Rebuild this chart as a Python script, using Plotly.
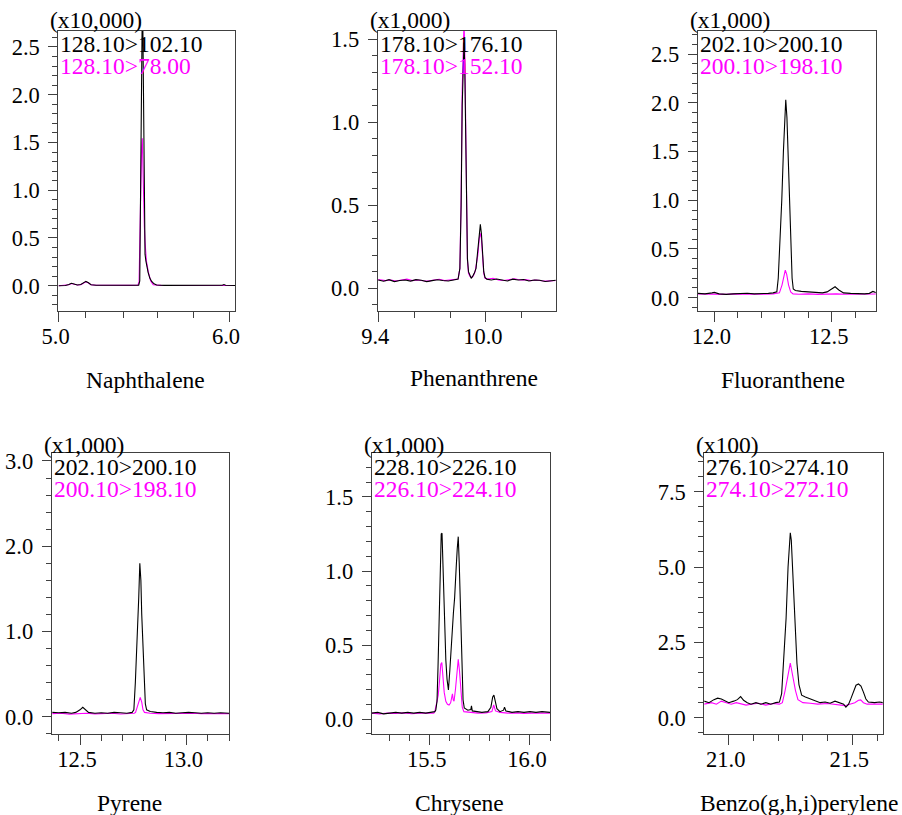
import plotly.graph_objects as go

W, H = 902, 815

# ---------------- data ----------------
names = ["Naphthalene", "Phenanthrene", "Fluoranthene", "Pyrene", "Chrysene", "Benzo(g,h,i)perylene"]
scale_labels = ["(x10,000)", "(x1,000)", "(x1,000)", "(x1,000)", "(x1,000)", "(x100)"]
black_labels = ["128.10>102.10", "178.10>176.10", "202.10>200.10", "202.10>200.10", "228.10>226.10", "276.10>274.10"]
magenta_labels = ["128.10>78.00", "178.10>152.10", "200.10>198.10", "200.10>198.10", "226.10>224.10", "274.10>272.10"]

# Naphthalene
naph_t_k = [5.00, 5.04, 5.06, 5.075, 5.09, 5.11, 5.13, 5.15, 5.16, 5.175, 5.19, 5.22, 5.28, 5.35, 5.42, 5.46,
            5.470, 5.476, 5.479, 5.482, 5.486, 5.490, 5.494, 5.498, 5.501, 5.503, 5.507, 5.512, 5.517, 5.525,
            5.535, 5.546, 5.56, 5.575, 5.62, 5.70, 5.80, 5.90, 5.96, 5.97, 5.98, 6.04]
naph_y_k = [0.0, 0.002, 0.012, 0.025, 0.018, 0.008, 0.012, 0.035, 0.045, 0.03, 0.01, 0.004, 0.003, 0.002, 0.003, 0.004,
            0.005, 0.05, 0.6, 1.6, 2.5, 2.75, 2.75, 2.0, 1.0, 0.45, 0.33, 0.26, 0.21, 0.14,
            0.08, 0.045, 0.02, 0.008, 0.003, 0.002, 0.002, 0.003, 0.005, 0.012, 0.004, 0.002]
naph_t_m = [5.00, 5.04, 5.06, 5.075, 5.09, 5.11, 5.13, 5.15, 5.16, 5.175, 5.19, 5.22, 5.28, 5.35, 5.42, 5.46,
            5.465, 5.472, 5.477, 5.482, 5.487, 5.491, 5.494, 5.498, 5.503, 5.507, 5.515, 5.526, 5.54, 5.555,
            5.60, 5.70, 5.80, 5.90, 5.97, 6.04]
naph_y_m = [0.0, 0.002, 0.01, 0.022, 0.016, 0.007, 0.01, 0.03, 0.04, 0.028, 0.009, 0.004, 0.002, 0.002, 0.003, 0.004,
            0.005, 0.04, 0.4, 1.0, 1.45, 1.544, 1.3, 0.9, 0.62, 0.46, 0.26, 0.147, 0.05, 0.01,
            0.003, 0.002, 0.002, 0.002, 0.008, 0.002]

# Phenanthrene
phen_t_k = [9.40, 9.43, 9.46, 9.49, 9.52, 9.55, 9.58, 9.61, 9.64, 9.67, 9.70, 9.73, 9.76, 9.79, 9.82, 9.845,
            9.855, 9.862, 9.868, 9.874, 9.878, 9.882, 9.887, 9.892, 9.897, 9.903, 9.910, 9.918, 9.925, 9.935,
            9.945, 9.955, 9.963, 9.969, 9.975, 9.981, 9.988, 9.995, 10.005, 10.03, 10.06, 10.09, 10.12, 10.15,
            10.18, 10.21, 10.24, 10.27, 10.30, 10.33, 10.36, 10.39]
phen_y_k = [0.05, 0.042, 0.052, 0.04, 0.047, 0.05, 0.043, 0.052, 0.048, 0.04, 0.046, 0.051, 0.047, 0.044, 0.05, 0.055,
            0.12, 0.5, 1.1, 1.42, 1.48, 1.35, 0.9, 0.45, 0.18, 0.1, 0.08, 0.06, 0.07, 0.09,
            0.12, 0.22, 0.33, 0.385, 0.33, 0.2, 0.1, 0.065, 0.055, 0.05, 0.056, 0.05, 0.044, 0.055,
            0.05, 0.053, 0.044, 0.05, 0.048, 0.041, 0.045, 0.048]
phen_t_m = [9.40, 9.44, 9.47, 9.50, 9.53, 9.56, 9.59, 9.62, 9.65, 9.68, 9.71, 9.74, 9.77, 9.80, 9.83, 9.845,
            9.855, 9.862, 9.868, 9.874, 9.878, 9.882, 9.887, 9.892, 9.897, 9.903, 9.912, 9.92, 9.93, 9.94,
            9.955, 9.963, 9.969, 9.975, 9.981, 9.988, 9.995, 10.01, 10.04, 10.07, 10.10, 10.13, 10.16, 10.19,
            10.22, 10.25, 10.28, 10.31, 10.34, 10.39]
phen_y_m = [0.052, 0.046, 0.05, 0.044, 0.05, 0.055, 0.046, 0.05, 0.045, 0.043, 0.05, 0.054, 0.046, 0.05, 0.052, 0.056,
            0.12, 0.55, 1.2, 1.55, 1.6, 1.45, 0.95, 0.45, 0.17, 0.09, 0.07, 0.065, 0.075, 0.1,
            0.2, 0.3, 0.33, 0.3, 0.18, 0.09, 0.06, 0.055, 0.06, 0.05, 0.047, 0.053, 0.057, 0.05,
            0.052, 0.046, 0.05, 0.045, 0.043, 0.047]

# Fluoranthene
flu_t_k = [11.93, 11.96, 11.99, 12.00, 12.02, 12.05, 12.08, 12.11, 12.14, 12.17, 12.20, 12.23, 12.25, 12.266,
           12.272, 12.280, 12.287, 12.294, 12.300, 12.304, 12.309, 12.314, 12.319, 12.325, 12.331, 12.336,
           12.345, 12.37, 12.40, 12.43, 12.46, 12.48, 12.50, 12.514, 12.53, 12.55, 12.58, 12.61, 12.64,
           12.66, 12.675, 12.69]
flu_y_k = [0.045, 0.04, 0.05, 0.055, 0.04, 0.035, 0.04, 0.042, 0.046, 0.04, 0.04, 0.045, 0.05, 0.06,
           0.2, 0.6, 1.0, 1.5, 1.95, 2.03, 1.85, 1.45, 1.0, 0.55, 0.2, 0.09,
           0.075, 0.065, 0.06, 0.055, 0.05, 0.06, 0.09, 0.113, 0.08, 0.05, 0.045, 0.04, 0.04,
           0.045, 0.065, 0.05]
flu_t_m = [11.93, 11.97, 12.01, 12.05, 12.09, 12.13, 12.17, 12.21, 12.25, 12.27, 12.277, 12.288, 12.296, 12.302,
           12.308, 12.316, 12.325, 12.335, 12.36, 12.40, 12.44, 12.48, 12.52, 12.56, 12.60, 12.64, 12.69]
flu_y_m = [0.04, 0.038, 0.042, 0.035, 0.04, 0.037, 0.04, 0.036, 0.04, 0.042, 0.05, 0.13, 0.24, 0.284,
           0.24, 0.13, 0.06, 0.04, 0.036, 0.04, 0.035, 0.038, 0.04, 0.036, 0.038, 0.035, 0.038]

# Pyrene
pyr_t_k = [12.37, 12.40, 12.43, 12.46, 12.48, 12.50, 12.513, 12.525, 12.54, 12.57, 12.60, 12.63, 12.66, 12.69,
           12.72, 12.745, 12.753, 12.760, 12.766, 12.770, 12.776, 12.781, 12.786, 12.790, 12.794, 12.800,
           12.807, 12.813, 12.83, 12.86, 12.89, 12.92, 12.95, 12.98, 13.01, 13.04, 13.07, 13.10, 13.13,
           13.16, 13.20]
pyr_y_k = [0.05, 0.045, 0.05, 0.04, 0.05, 0.08, 0.11, 0.08, 0.05, 0.04, 0.045, 0.04, 0.05, 0.045,
           0.04, 0.05, 0.08, 0.4, 0.75, 0.95, 1.4, 1.8, 1.6, 1.2, 0.9, 0.45,
           0.15, 0.08, 0.06, 0.05, 0.045, 0.05, 0.04, 0.045, 0.05, 0.045, 0.04, 0.045, 0.04,
           0.045, 0.04]
pyr_t_m = [12.37, 12.41, 12.45, 12.49, 12.53, 12.57, 12.61, 12.65, 12.69, 12.73, 12.755, 12.761, 12.770,
           12.778, 12.783, 12.790, 12.796, 12.803, 12.83, 12.87, 12.91, 12.95, 12.99, 13.03, 13.07, 13.11,
           13.15, 13.20]
pyr_y_m = [0.035, 0.04, 0.03, 0.035, 0.04, 0.033, 0.036, 0.04, 0.032, 0.036, 0.04, 0.05, 0.12,
           0.21, 0.227, 0.17, 0.08, 0.05, 0.04, 0.035, 0.038, 0.034, 0.037, 0.04, 0.035, 0.038,
           0.036, 0.035]

# Chrysene
chr_t_k = [15.21, 15.24, 15.27, 15.30, 15.33, 15.36, 15.39, 15.42, 15.45, 15.48, 15.51, 15.525, 15.530,
           15.536, 15.541, 15.546, 15.553, 15.557, 15.561, 15.565, 15.570, 15.575, 15.580, 15.586, 15.593,
           15.600, 15.607, 15.613, 15.618, 15.624, 15.628, 15.632, 15.637, 15.642, 15.647, 15.654, 15.660,
           15.666, 15.672, 15.69, 15.705, 15.708, 15.712, 15.73, 15.76, 15.79, 15.805, 15.814, 15.820,
           15.827, 15.835, 15.85, 15.868, 15.873, 15.88, 15.91, 15.94, 15.97, 16.00, 16.03, 16.06, 16.10]
chr_y_k = [0.04, 0.045, 0.035, 0.04, 0.045, 0.04, 0.045, 0.04, 0.045, 0.04, 0.045, 0.05, 0.06,
           0.12, 0.35, 0.7, 1.1, 1.25, 1.255, 1.05, 0.78, 0.55, 0.4, 0.27, 0.196,
           0.33, 0.5, 0.62, 0.72, 0.82, 1.0, 1.03, 1.15, 1.232, 1.05, 0.67, 0.35,
           0.13, 0.075, 0.06, 0.065, 0.09, 0.055, 0.05, 0.045, 0.05, 0.08, 0.15, 0.162,
           0.12, 0.07, 0.05, 0.06, 0.08, 0.055, 0.045, 0.05, 0.045, 0.05, 0.045, 0.05, 0.045]
chr_t_m = [15.21, 15.25, 15.29, 15.33, 15.37, 15.41, 15.45, 15.49, 15.52, 15.525, 15.532, 15.536, 15.542,
           15.548, 15.555, 15.560, 15.565, 15.572, 15.580, 15.588, 15.596, 15.604, 15.610, 15.613, 15.617,
           15.621, 15.628, 15.635, 15.642, 15.648, 15.655, 15.662, 15.670, 15.70, 15.74, 15.78, 15.81,
           15.819, 15.828, 15.85, 15.89, 15.93, 15.97, 16.01, 16.05, 16.10]
chr_y_m = [0.04, 0.035, 0.04, 0.038, 0.042, 0.036, 0.04, 0.038, 0.04, 0.05, 0.1, 0.14, 0.16,
           0.25, 0.37, 0.381, 0.3, 0.18, 0.12, 0.1, 0.095, 0.11, 0.15, 0.17, 0.13,
           0.12, 0.2, 0.32, 0.403, 0.33, 0.18, 0.08, 0.05, 0.045, 0.04, 0.042, 0.05,
           0.095, 0.055, 0.045, 0.04, 0.042, 0.038, 0.04, 0.042, 0.04]

# Benzo(g,h,i)perylene
bgp_t_k = [20.90, 20.92, 20.94, 20.955, 20.97, 20.985, 21.00, 21.02, 21.035, 21.048, 21.06, 21.075, 21.09,
           21.11, 21.13, 21.15, 21.17, 21.19, 21.205, 21.214, 21.222, 21.232, 21.240, 21.246, 21.249,
           21.253, 21.259, 21.267, 21.276, 21.284, 21.288, 21.295, 21.31, 21.33, 21.35, 21.37, 21.39,
           21.41, 21.43, 21.45, 21.465, 21.474, 21.485, 21.495, 21.505, 21.515, 21.525, 21.535, 21.545,
           21.555, 21.565, 21.59, 21.61, 21.625]
bgp_y_k = [0.55, 0.5, 0.6, 0.65, 0.62, 0.55, 0.5, 0.55, 0.6, 0.7, 0.58, 0.5, 0.45,
           0.5, 0.45, 0.5, 0.45, 0.5, 0.52, 0.8, 1.8, 3.3, 5.0, 6.0, 6.14,
           5.9, 4.8, 3.3, 1.8, 1.1, 1.0, 0.75, 0.69, 0.62, 0.55, 0.5, 0.52,
           0.48, 0.55, 0.5, 0.45, 0.35, 0.45, 0.65, 0.9, 1.08, 1.12, 1.05, 0.85,
           0.62, 0.52, 0.5, 0.52, 0.5]
bgp_t_m = [20.90, 20.93, 20.95, 20.97, 20.99, 21.01, 21.03, 21.05, 21.07, 21.09, 21.12, 21.15, 21.18,
           21.205, 21.217, 21.228, 21.238, 21.245, 21.249, 21.254, 21.262, 21.270, 21.280, 21.290, 21.30,
           21.33, 21.36, 21.40, 21.44, 21.47, 21.49, 21.51, 21.525, 21.534, 21.545, 21.56, 21.59, 21.625]
bgp_y_m = [0.45, 0.5, 0.45, 0.55, 0.5, 0.45, 0.5, 0.45, 0.42, 0.45, 0.48, 0.42, 0.47,
           0.45, 0.5, 0.9, 1.4, 1.7, 1.81, 1.6, 1.2, 0.9, 0.6, 0.55, 0.5,
           0.48, 0.45, 0.47, 0.43, 0.4, 0.45, 0.5, 0.58, 0.59, 0.5, 0.45, 0.45, 0.45]

series = [
    (naph_t_k, naph_y_k, naph_t_m, naph_y_m),
    (phen_t_k, phen_y_k, phen_t_m, phen_y_m),
    (flu_t_k, flu_y_k, flu_t_m, flu_y_m),
    (pyr_t_k, pyr_y_k, pyr_t_m, pyr_y_m),
    (chr_t_k, chr_y_k, chr_t_m, chr_y_m),
    (bgp_t_k, bgp_y_k, bgp_t_m, bgp_y_m),
]

# axis settings per panel
x_ranges = [[4.998, 6.035], [9.397, 10.389], [11.929, 12.687], [12.367, 13.2], [15.21, 16.1], [20.901, 21.623]]
x_major = [[5.0, 6.0], [9.4, 10.0], [12.0, 12.5], [12.5, 13.0], [15.5, 16.0], [21.0, 21.5]]
x_minor = [[5.16, 5.38, 5.58, 5.79], [9.6, 9.8, 10.2], [12.1, 12.2, 12.3, 12.4, 12.6],
           [12.4, 12.6, 12.7, 12.8, 12.9, 13.1, 13.2], [15.3, 15.4, 15.6, 15.7, 15.8, 15.9, 16.1],
           [21.1, 21.2, 21.3, 21.4, 21.6]]
y_ranges = [[-0.265, 2.667], [-0.137, 1.55], [-0.136, 2.736], [-0.207, 3.09], [-0.103, 1.795], [-0.55, 8.775]]
y_dtick = [0.5, 0.5, 0.5, 1.0, 0.5, 2.5]
y_minor = [0.1, 0.1, 0.1, 0.2, 0.1, 0.5]

# ---------------- layout geometry (pixels) ----------------
boxes = [  # left, right, top, bottom
    (58.3, 235.0, 31.0, 311.0),
    (377.7, 555.7, 31.0, 311.0),
    (697.7, 875.7, 31.0, 311.0),
    (51.7, 229.0, 453.3, 734.3),
    (371.7, 550.0, 453.3, 734.3),
    (704.3, 882.7, 453.3, 734.3),
]
name_pos = [(145, 380), (474, 378), (783, 380), (129, 803), (459.5, 803), (799, 803)]
scale_y = [20.5, 20.5, 20.5, 445.5, 445.5, 445.5]

FONT = "Liberation Serif"
FS_TICK = 22.5
FS_LEG = 23.5
FS_SCALE = 23.5
FS_NAME = 23.5
AX = "#404040"
MAG = "#ff00ff"


def px(x):
    return x / W


def py(y):
    return 1 - y / H


fig = go.Figure()
annotations = []
for i in range(6):
    n = i + 1
    xa = "x" if n == 1 else f"x{n}"
    ya = "y" if n == 1 else f"y{n}"
    tk, yk, tm, ym = series[i]
    fig.add_trace(go.Scatter(x=tm, y=ym, mode="lines", line=dict(color=MAG, width=1.1),
                             xaxis=xa, yaxis=ya, showlegend=False, hoverinfo="skip"))
    fig.add_trace(go.Scatter(x=tk, y=yk, mode="lines", line=dict(color="black", width=1.1),
                             xaxis=xa, yaxis=ya, showlegend=False, hoverinfo="skip"))
    l, r, t, b = boxes[i]
    xkey = "xaxis" if n == 1 else f"xaxis{n}"
    ykey = "yaxis" if n == 1 else f"yaxis{n}"
    fig.layout[xkey] = dict(
        domain=[px(l), px(r)], range=x_ranges[i], anchor=ya, automargin=False,
        tickmode="array", tickvals=x_major[i], ticktext=[f"{v:.1f}" for v in x_major[i]],
        ticks="outside", ticklen=10, tickcolor=AX, tickwidth=1,
        minor=dict(tickvals=x_minor[i], ticks="outside", ticklen=6, tickcolor=AX, tickwidth=1),
        showline=True, mirror=True, linecolor=AX, linewidth=1,
        showgrid=False, zeroline=False, ticklabelshift=-3, ticklabelstandoff=-5,
        tickfont=dict(family=FONT, size=FS_TICK, color="black"),
    )
    fig.layout[ykey] = dict(
        domain=[py(b), py(t)], range=y_ranges[i], anchor=xa, automargin=False,
        tickmode="linear", tick0=0, dtick=y_dtick[i], tickformat=".1f",
        ticks="outside", ticklen=9, tickcolor=AX, tickwidth=1,
        minor=dict(dtick=y_minor[i], tick0=0, ticks="outside", ticklen=5, tickcolor=AX, tickwidth=1),
        showline=True, mirror=True, linecolor=AX, linewidth=1,
        showgrid=False, zeroline=False, ticklabelstandoff=4,
        tickfont=dict(family=FONT, size=FS_TICK, color="black"),
    )
    annotations.append(dict(text=scale_labels[i], x=px(l - 9), y=py(scale_y[i]), xref="paper", yref="paper",
                            xanchor="left", yanchor="middle", showarrow=False, borderpad=0,
                            font=dict(family=FONT, size=FS_SCALE, color="black")))
    annotations.append(dict(text=black_labels[i], x=px(l + 1), y=py(t + 13.3), xref="paper", yref="paper",
                            xanchor="left", yanchor="middle", showarrow=False, borderpad=0,
                            font=dict(family=FONT, size=FS_LEG, color="black")))
    annotations.append(dict(text=magenta_labels[i], x=px(l + 1), y=py(t + 35.5), xref="paper", yref="paper",
                            xanchor="left", yanchor="middle", showarrow=False, borderpad=0,
                            font=dict(family=FONT, size=FS_LEG, color=MAG)))
    nx, ny = name_pos[i]
    annotations.append(dict(text=names[i], x=px(nx), y=py(ny), xref="paper", yref="paper",
                            xanchor="center", yanchor="middle", showarrow=False, borderpad=0,
                            font=dict(family=FONT, size=FS_NAME, color="black")))

fig.update_layout(
    width=W, height=H, margin=dict(l=0, r=0, t=0, b=0, pad=0), autosize=False,
    paper_bgcolor="white", plot_bgcolor="white",
    annotations=annotations, showlegend=False,
    font=dict(family=FONT, size=FS_TICK, color="black"),
)

fig.write_html("out.html", config={"displayModeBar": False, "responsive": False},
               post_script="document.body.style.margin='0';")
